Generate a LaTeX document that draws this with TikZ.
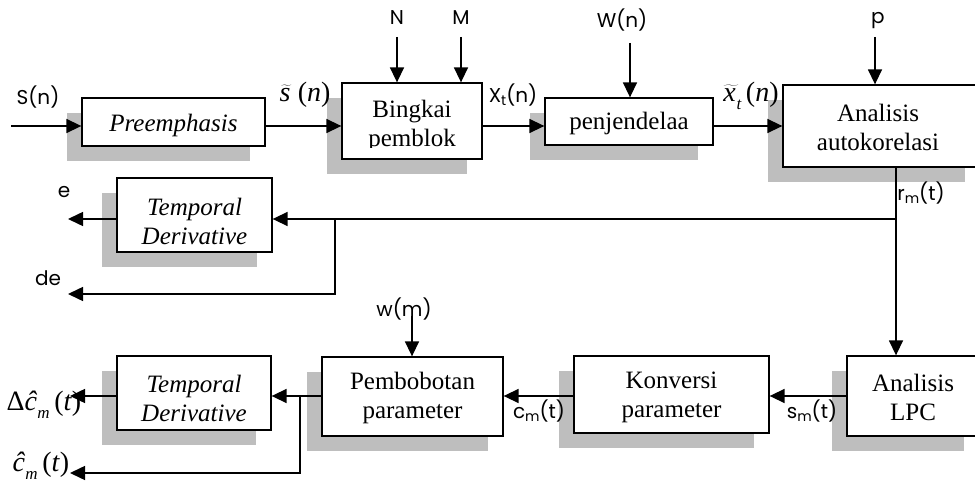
\documentclass[tikz,border=0pt]{standalone}
\usepackage{fontspec}
\setmainfont{Liberation Serif}
\newfontfamily\labfont{Poppins}
\usetikzlibrary{arrows.meta,shadows}
\definecolor{shade}{RGB}{190,190,190}
\newcommand\lsub[1]{\raisebox{-0.15em}{\fontsize{14}{14}\selectfont #1}}
\newcommand\msub[1]{\raisebox{-0.3em}{\fontsize{17}{17}\selectfont\itshape #1}}
\newcommand\mtil[1]{$\widetilde{\mbox{\itshape #1}\mkern2mu}$}
\begin{document}
\begin{tikzpicture}[x=1pt,y=-1pt,
 box/.style={draw, line width=1.3pt, fill=white, inner sep=0pt,
   general shadow={fill=shade, shadow xshift=-15pt, shadow yshift=-15pt}},
 btext/.style={font=\fontsize{25}{29}\selectfont, align=center, inner sep=0pt},
 lab/.style={font=\labfont\fontsize{20}{24}\selectfont, inner sep=0pt},
 mlab/.style={font=\fontsize{28}{32}\selectfont, inner sep=0pt},
 arr/.style={line width=1.5pt, -{Triangle[length=15pt,width=14pt]}}]
\useasboundingbox (0,0) rectangle (975,484);
\clip (0,0) rectangle (975,484);
\fill[white] (0,0) rectangle (975,484);

% boxes
\node[box, minimum width=183pt, minimum height=48pt] (pre)  at (173.5,122) {};
\node[box, minimum width=140pt, minimum height=76pt] (bing) at (412,121) {};
\node[box, minimum width=168pt, minimum height=47pt] (penj) at (629,121.5) {};
\node[box, minimum width=197pt, minimum height=82pt] (auto) at (881.5,126) {};
\node[box, minimum width=155pt, minimum height=74pt] (td1)  at (194.5,215) {};
\node[box, minimum width=154pt, minimum height=74pt] (td2)  at (194,393) {};
\node[box, minimum width=181pt, minimum height=79pt] (pem)  at (412.5,396.5) {};
\node[box, minimum width=195pt, minimum height=77pt] (konv) at (671.5,394.5) {};
\node[box, minimum width=132pt, minimum height=80pt] (lpc)  at (913,396) {};

% box texts
\node[btext] (preT)  at (173.5,125) {\itshape Preemphasis};
\node[btext] (bingT) at (412,126) {Bingkai\\pemblok};
\fill[white] (343.5,148.5) rectangle (480.5,157.5);
\node[btext] (penjT) at (629,123.5) {penjendelaa};
\node[btext] (autoT) at (878,127.5) {Analisis\\autokorelasi};
\node[btext] (td1T)  at (194.5,221) {\itshape Temporal\\\itshape Derivative};
\node[btext] (td2T)  at (194,398) {\itshape Temporal\\\itshape Derivative};
\node[btext] (pemT)  at (412.5,397.5) {Pembobotan\\parameter};
\node[btext] (konvT) at (671.5,397) {Konversi\\parameter};
\node[btext] (lpcT)  at (913,397) {Analisis\\LPC};

% labels
\node[lab] (lS)  at (38,97)  {S(n)};
\node[mlab] (ls) at (305,95) {\mtil{s}\,(\textit{n})};
\node[lab] (lN)  at (397,18) {N};
\node[lab] (lM)  at (461,18) {M};
\node[lab] (lX)  at (513,95) {X\lsub{t}(n)};
\node[lab] (lW)  at (622,20) {W(n)};
\node[mlab] (lx) at (751,96) {\mtil{x}\kern-2pt\msub{t}\,(\textit{n})};
\node[lab] (lp)  at (878,21) {p};
\node[lab] (lr)  at (921,193) {r\lsub{m}(t)};
\node[lab] (le)  at (64,192) {e};
\node[lab] (lde) at (48,278) {de};
\node[lab] (lw)  at (404,309) {w(m)};
\node[lab] (lc)  at (539,411) {c\lsub{m}(t)};
\node[lab] (lsm) at (812,411) {s\lsub{m}(t)};
\node[mlab] (ldc) at (44,405) {Δ\textit{ĉ}\msub{m}\,(\textit{t})};
\node[mlab] (lch) at (41,466) {\textit{ĉ}\msub{m}\,(\textit{t})};

% coordinates
\coordinate (in) at (11,126);
\coordinate (r1) at (0,126);
\coordinate (r2) at (0,396);
\coordinate (nA) at (397,37);
\coordinate (mA) at (461,37);
\coordinate (wA) at (630,43);
\coordinate (pA) at (875,37);
\coordinate (v) at (896,219);
\coordinate (eOut) at (68,219);
\coordinate (b1) at (335,219);
\coordinate (deOut) at (68,294);
\coordinate (dcOut) at (70,396);
\coordinate (b2) at (300,396);
\coordinate (chOut) at (70,473);
\coordinate (wmA) at (412,316);

% connectors
\draw[arr] (in) -- (pre.west |- r1);
\draw[arr] (pre.east |- r1) -- (bing.west |- r1);
\draw[arr] (bing.east |- r1) -- (penj.west |- r1);
\draw[arr] (penj.east |- r1) -- (auto.west |- r1);
\draw[arr] (nA) -- (nA |- bing.north);
\draw[arr] (mA) -- (mA |- bing.north);
\draw[arr] (wA) -- (wA |- penj.north);
\draw[arr] (pA) -- (pA |- auto.north);
\draw[arr] (v |- auto.south) -- (v |- lpc.north);
\draw[arr] (v) -- (td1.east |- v);
\draw[arr] (td1.west |- v) -- (eOut);
\draw[arr] (b1) |- (deOut);
\draw[arr] (lpc.west |- r2) -- (konv.east |- r2);
\draw[arr] (konv.west |- r2) -- (pem.east |- r2);
\draw[arr] (pem.west |- r2) -- (td2.east |- r2);
\draw[arr] (td2.west |- r2) -- (dcOut);
\draw[arr] (b2) |- (chOut);
\draw[arr] (wmA) -- (wmA |- pem.north);
\end{tikzpicture}
\end{document}
